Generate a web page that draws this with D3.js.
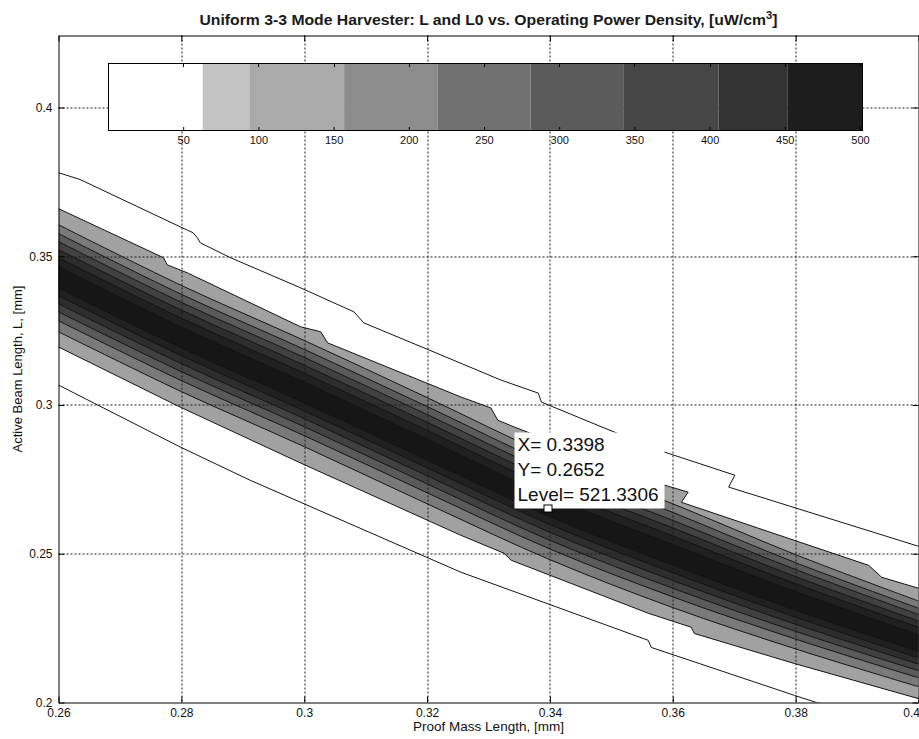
<!DOCTYPE html>
<html>
<head>
<meta charset="utf-8">
<script src="https://cdn.jsdelivr.net/npm/d3@7"></script>
<style>
  html, body { margin: 0; padding: 0; background: #fff; }
  svg { display: block; font-family: "Liberation Sans", Arial, Helvetica, sans-serif; }
</style>
</head>
<body>
<div id="vis"><svg width="919" height="739"></svg></div>
<script>
// axes
const xTicks = [0.26, 0.28, 0.30, 0.32, 0.34, 0.36, 0.38, 0.40];
const xTickLabels = ["0.26", "0.28", "0.3", "0.32", "0.34", "0.36", "0.38", "0.4"];
const yTicks = [0.20, 0.25, 0.30, 0.35, 0.40];
const yTickLabels = ["0.2", "0.25", "0.3", "0.35", "0.4"];
const xDomain = [0.26, 0.40];
const yDomain = [0.20, 0.4242];

// colorbar levels (uW/cm^3)
const levelBreaks = [0, 63, 94, 157, 219, 281, 343, 406, 452, 502];
const levelShades = ["#ffffff", "#c3c3c3", "#aaaaaa", "#8c8c8c", "#717171", "#5b5b5b", "#464646", "#333333", "#1d1d1d"];
const colorbarTicks = [50, 100, 150, 200, 250, 300, 350, 400, 450, 500];

// outermost contour, white on both sides
const outerUpper = [
  [0.2600, 0.3781], [0.2635, 0.3758], [0.2798, 0.3599], [0.2819, 0.3579], [0.2826, 0.3562],
  [0.2831, 0.3545], [0.2880, 0.3495], [0.2994, 0.3394], [0.3081, 0.3313], [0.3097, 0.3276],
  [0.3195, 0.3192], [0.3320, 0.3084], [0.3381, 0.3040], [0.3386, 0.3010], [0.3488, 0.2923],
  [0.3586, 0.2842], [0.3701, 0.2764], [0.3691, 0.2724], [0.4000, 0.2525]
];
const outerLower = [
  [0.2600, 0.3067], [0.2798, 0.2859], [0.2912, 0.2747], [0.3255, 0.2438], [0.3560, 0.2209],
  [0.3565, 0.2185], [0.3798, 0.2024], [0.3834, 0.2000], [0.3900, 0.1970]
];

// first filled contour
const bandUpper = [
  [0.2600, 0.3660], [0.2771, 0.3495], [0.2777, 0.3471], [0.2810, 0.3444], [0.2994, 0.3263],
  [0.3027, 0.3246], [0.3038, 0.3209], [0.3255, 0.3027], [0.3304, 0.2990], [0.3315, 0.2949],
  [0.3342, 0.2926], [0.3586, 0.2731], [0.3625, 0.2707], [0.3614, 0.2673], [0.3798, 0.2545],
  [0.3919, 0.2461], [0.3940, 0.2421], [0.4000, 0.2384]
];
const bandLower = [
  [0.2600, 0.3195], [0.2798, 0.2993], [0.2994, 0.2805], [0.3255, 0.2562], [0.3325, 0.2502],
  [0.3337, 0.2478], [0.3560, 0.2300], [0.3630, 0.2253], [0.3635, 0.2232], [0.3798, 0.2131],
  [0.4000, 0.2013]
];

// inner contours, read at these x stations
const stations = [0.26, 0.28, 0.30, 0.32, 0.34, 0.36, 0.38, 0.40];
const innerUpper = [
  [0.3606, 0.3402, 0.3217, 0.3025, 0.2830, 0.2668, 0.2497, 0.2341],
  [0.3576, 0.3372, 0.3187, 0.2995, 0.2800, 0.2639, 0.2470, 0.2317],
  [0.3549, 0.3345, 0.3160, 0.2968, 0.2774, 0.2612, 0.2447, 0.2296],
  [0.3522, 0.3319, 0.3134, 0.2942, 0.2748, 0.2587, 0.2423, 0.2274],
  [0.3495, 0.3292, 0.3107, 0.2915, 0.2722, 0.2560, 0.2399, 0.2253],
  [0.3465, 0.3262, 0.3077, 0.2885, 0.2693, 0.2531, 0.2373, 0.2228]
];
const innerLower = [
  [0.3246, 0.3045, 0.2860, 0.2668, 0.2480, 0.2319, 0.2180, 0.2053],
  [0.3283, 0.3082, 0.2897, 0.2705, 0.2516, 0.2355, 0.2213, 0.2083],
  [0.3313, 0.3112, 0.2927, 0.2735, 0.2545, 0.2384, 0.2239, 0.2107],
  [0.3340, 0.3139, 0.2954, 0.2762, 0.2572, 0.2410, 0.2263, 0.2129],
  [0.3367, 0.3166, 0.2980, 0.2789, 0.2598, 0.2436, 0.2287, 0.2150],
  [0.3394, 0.3192, 0.3007, 0.2815, 0.2624, 0.2462, 0.2310, 0.2172]
];
const bandShades = ["#a1a1a1", "#7a7a7a", "#5a5a5a", "#414141", "#2d2d2d", "#202020", "#161616"];

const datatip = { x: 0.3398, y: 0.2652 };
const datatipLines = ["X= 0.3398", "Y= 0.2652", "Level= 521.3306"];

class ContourChart {

  #margin;
  #width;
  #height;
  #svg;
  #chart;
  #plot;
  #xScale;
  #yScale;
  #cbScale;

  constructor(width, height) {
    this.#margin = { top: 35.5, right: 0.5, bottom: 36.5, left: 58.5 };
    this.#width = width - this.#margin.left - this.#margin.right;
    this.#height = height - this.#margin.top - this.#margin.bottom;
    this.#init();
  }

  #init() {
    this.#svg = d3.select("#vis").select("svg");
    this.#chart = this.#svg.append("g")
      .attr("transform", `translate(${this.#margin.left},${this.#margin.top})`);

    this.#svg.append("defs").append("clipPath")
      .attr("id", "plot-clip")
      .append("rect")
      .attr("width", this.#width)
      .attr("height", this.#height);

    this.#plot = this.#chart.append("g").attr("clip-path", "url(#plot-clip)");

    this.#xScale = d3.scaleLinear().domain(xDomain).range([0, this.#width]);
    this.#yScale = d3.scaleLinear().domain(yDomain).range([this.#height, 0]);
    this.#cbScale = d3.scaleLinear().domain([0, 502]).range([108, 863]);
  }

  #setBands() {
    const line = d3.line()
      .x(d => this.#xScale(d[0]))
      .y(d => this.#yScale(d[1]));

    this.#plot.append("path")
      .attr("d", line(bandUpper.concat(bandLower.slice().reverse())) + "Z")
      .attr("fill", bandShades[0]);

    const area = d3.area()
      .curve(d3.curveCatmullRom.alpha(0.5))
      .x(d => this.#xScale(d.x))
      .y0(d => this.#yScale(d.lo))
      .y1(d => this.#yScale(d.hi));

    innerUpper.forEach((upper, k) => {
      const rows = stations.map((x, i) => ({ x, hi: upper[i], lo: innerLower[k][i] }));
      this.#plot.append("path")
        .attr("d", area(rows))
        .attr("fill", bandShades[k + 1]);
    });
    return this;
  }

  #setContourLines() {
    const line = d3.line()
      .x(d => this.#xScale(d[0]))
      .y(d => this.#yScale(d[1]));
    const smooth = d3.line()
      .curve(d3.curveCatmullRom.alpha(0.5))
      .x((d, i) => this.#xScale(stations[i]))
      .y(d => this.#yScale(d));

    const g = this.#plot.append("g")
      .attr("fill", "none")
      .attr("stroke", "#141414")
      .attr("stroke-width", 1);

    [outerUpper, outerLower, bandUpper, bandLower].forEach(pts => {
      g.append("path").attr("d", line(pts));
    });
    innerUpper.concat(innerLower).forEach(ys => {
      g.append("path").attr("d", smooth(ys));
    });
    return this;
  }

  #setGrid() {
    const g = this.#chart.append("g")
      .attr("stroke", "#1a1a1a")
      .attr("stroke-width", 1)
      .attr("stroke-dasharray", "2,2");

    g.selectAll(".gx")
      .data(xTicks.slice(1, -1))
      .join("line")
      .attr("x1", d => Math.round(this.#xScale(d)) + 0.5)
      .attr("x2", d => Math.round(this.#xScale(d)) + 0.5)
      .attr("y1", 0)
      .attr("y2", this.#height);

    g.selectAll(".gy")
      .data(yTicks.slice(1))
      .join("line")
      .attr("y1", d => Math.round(this.#yScale(d)) + 0.5)
      .attr("y2", d => Math.round(this.#yScale(d)) + 0.5)
      .attr("x1", 0)
      .attr("x2", this.#width);
    return this;
  }

  #setAxes() {
    const xFmt = (d, i) => xTickLabels[i];
    const yFmt = (d, i) => yTickLabels[i];

    const bottom = this.#chart.append("g")
      .attr("transform", `translate(0,${this.#height})`)
      .call(d3.axisBottom(this.#xScale).tickValues(xTicks).tickFormat(xFmt)
        .tickSizeInner(-6).tickSizeOuter(0).tickPadding(6));
    const left = this.#chart.append("g")
      .call(d3.axisLeft(this.#yScale).tickValues(yTicks).tickFormat(yFmt)
        .tickSizeInner(-6).tickSizeOuter(0).tickPadding(6));
    this.#chart.append("g")
      .call(d3.axisTop(this.#xScale).tickValues(xTicks).tickFormat("")
        .tickSizeInner(-6).tickSizeOuter(0));
    this.#chart.append("g")
      .attr("transform", `translate(${this.#width},0)`)
      .call(d3.axisRight(this.#yScale).tickValues(yTicks).tickFormat("")
        .tickSizeInner(-6).tickSizeOuter(0));

    this.#chart.selectAll(".domain, .tick line").attr("stroke", "#000");
    [bottom, left].forEach(a => a.selectAll("text")
      .attr("font-family", "'Liberation Sans', Arial, sans-serif")
      .attr("font-size", 12)
      .attr("fill", "#111"));
    // last x label sits on the window edge, keep it inside
    bottom.selectAll(".tick text")
      .filter((d, i, n) => i === n.length - 1)
      .attr("text-anchor", "end")
      .attr("dx", 1);

    this.#svg.append("text")
      .attr("x", this.#margin.left + this.#width / 2)
      .attr("y", 731)
      .attr("text-anchor", "middle")
      .attr("font-size", 13.5)
      .attr("fill", "#111")
      .text("Proof Mass Length, [mm]");

    this.#svg.append("text")
      .attr("transform", `translate(22,${this.#margin.top + this.#height / 2}) rotate(-90)`)
      .attr("text-anchor", "middle")
      .attr("font-size", 13)
      .attr("fill", "#111")
      .text("Active Beam Length, L, [mm]");

    const title = this.#svg.append("text")
      .attr("x", this.#margin.left + this.#width / 2)
      .attr("y", 25)
      .attr("text-anchor", "middle")
      .attr("font-size", 14)
      .attr("font-weight", "bold")
      .attr("textLength", 578)
      .attr("lengthAdjust", "spacingAndGlyphs")
      .attr("fill", "#1a1a1a");
    title.append("tspan").text("Uniform 3-3 Mode Harvester: L and L0 vs. Operating Power Density, [uW/cm");
    title.append("tspan").attr("dy", -6).attr("font-size", 10).text("3");
    title.append("tspan").attr("dy", 6).text("]");
    return this;
  }

  #setColorbar() {
    const top = 63, h = 68;
    const g = this.#svg.append("g");
    const bands = d3.pairs(levelBreaks).map((p, i) => ({ a: p[0], b: p[1], c: levelShades[i] }));

    g.selectAll("rect.band")
      .data(bands)
      .join("rect")
      .attr("x", d => this.#cbScale(d.a))
      .attr("width", d => this.#cbScale(d.b) - this.#cbScale(d.a))
      .attr("y", top)
      .attr("height", h)
      .attr("fill", d => d.c);

    g.append("rect")
      .attr("x", this.#cbScale(0) + 0.5)
      .attr("y", top + 0.5)
      .attr("width", this.#cbScale(502) - this.#cbScale(0) - 1)
      .attr("height", h - 1)
      .attr("fill", "none")
      .attr("stroke", "#000");

    const axis = g.append("g")
      .attr("transform", `translate(0,${top + h})`)
      .call(d3.axisBottom(this.#cbScale).tickValues(colorbarTicks)
        .tickSizeInner(-4).tickSizeOuter(0).tickPadding(5));
    axis.select(".domain").remove();
    axis.selectAll("line").attr("stroke", "#000");
    axis.selectAll("text")
      .attr("font-family", "'Liberation Sans', Arial, sans-serif")
      .attr("font-size", 11)
      .attr("fill", "#111");

    g.selectAll("line.cbtop")
      .data(colorbarTicks)
      .join("line")
      .attr("x1", d => Math.round(this.#cbScale(d)) + 0.5)
      .attr("x2", d => Math.round(this.#cbScale(d)) + 0.5)
      .attr("y1", top)
      .attr("y2", top + 4)
      .attr("stroke", "#000");
    return this;
  }

  #setDatatip() {
    const px = this.#xScale(datatip.x);
    const py = this.#yScale(datatip.y);
    const g = this.#chart.append("g");

    g.append("rect")
      .attr("x", Math.round(px - 34.5))
      .attr("y", Math.round(py - 76))
      .attr("width", 150)
      .attr("height", 76)
      .attr("fill", "#fff");

    g.selectAll("text")
      .data(datatipLines)
      .join("text")
      .attr("x", Math.round(px - 31.5))
      .attr("y", (d, i) => Math.round(py - 58) + i * 25)
      .attr("font-size", 19)
      .attr("fill", "#111")
      .text(d => d);

    g.append("rect")
      .attr("x", Math.round(px) - 4.5)
      .attr("y", Math.round(py) - 3.5)
      .attr("width", 8)
      .attr("height", 7)
      .attr("fill", "#fff")
      .attr("stroke", "#000");
    return this;
  }

  drawChart() {
    this.#setBands()
      .#setContourLines()
      .#setGrid()
      .#setAxes()
      .#setColorbar()
      .#setDatatip();
    return this;
  }
}

new ContourChart(919, 739).drawChart();
</script>
</body>
</html>
